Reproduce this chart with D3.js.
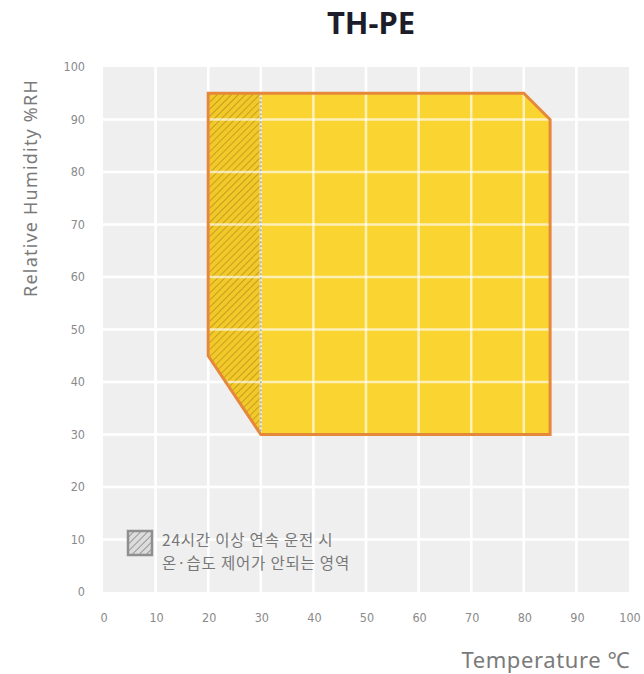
<!DOCTYPE html>
<html>
<head>
<meta charset="utf-8">
<script src="https://cdn.jsdelivr.net/npm/d3@7/dist/d3.min.js"></script>
<style>
  html, body { margin: 0; padding: 0; background: #ffffff; }
  svg { display: block; }
</style>
</head>
<body>
<svg id="chart" width="644" height="674"></svg>
<script>
// ---- data ----
const chartTitle = "TH-PE";
const xTicks = [0, 10, 20, 30, 40, 50, 60, 70, 80, 90, 100];
const yTicks = [0, 10, 20, 30, 40, 50, 60, 70, 80, 90, 100];
// operating envelope (temperature °C, humidity %RH)
const envelopeTemp = [20, 80, 85, 85, 30, 20];
const envelopeHum  = [95, 95, 90, 30, 30, 45];
// region not controllable on 24h+ continuous operation
const hatchTemp = [20, 30, 30, 20];
const hatchHum  = [95, 95, 30, 45];
const legendLines = ["24시간 이상 연속 운전 시", "온·습도 제어가 안되는 영역"];
const xLabel = "Temperature ℃";
const yLabel = "Relative Humidity %RH";

// ---- layout ----
const svg = d3.select("#chart");
const x = d3.scaleLinear().domain([0, 100]).range([103, 629]);
const y = d3.scaleLinear().domain([0, 100]).range([592, 67]);

const defs = svg.append("defs");
const pat = defs.append("pattern").attr("id", "hatch").attr("patternUnits", "userSpaceOnUse")
  .attr("width", 5).attr("height", 5).attr("patternTransform", "rotate(45)");
pat.append("rect").attr("width", 5).attr("height", 5).attr("fill", "#f2c928");
pat.append("line").attr("x1", 0).attr("y1", 0).attr("x2", 0).attr("y2", 5)
  .attr("stroke", "#bf9c20").attr("stroke-width", 1.8);
const pat2 = defs.append("pattern").attr("id", "hatchGrey").attr("patternUnits", "userSpaceOnUse")
  .attr("width", 5).attr("height", 5).attr("patternTransform", "rotate(45)");
pat2.append("rect").attr("width", 5).attr("height", 5).attr("fill", "#dcdcdc");
pat2.append("line").attr("x1", 0).attr("y1", 0).attr("x2", 0).attr("y2", 5)
  .attr("stroke", "#8c8c8c").attr("stroke-width", 1.8);

// background
svg.append("rect")
  .attr("x", x(0)).attr("y", y(100))
  .attr("width", x(100) - x(0)).attr("height", y(0) - y(100))
  .attr("fill", "#efefef");

const innerX = xTicks.filter(d => d > 0 && d < 100);
const innerY = yTicks.filter(d => d > 0 && d < 100);

function drawGrid(g, color, opacity) {
  g.selectAll("line.vx").data(innerX).enter().append("line")
    .attr("x1", d => x(d)).attr("x2", d => x(d))
    .attr("y1", y(100)).attr("y2", y(0))
    .attr("stroke", color).attr("stroke-width", 2.5).attr("opacity", opacity);
  g.selectAll("line.hy").data(innerY).enter().append("line")
    .attr("x1", x(0)).attr("x2", x(100))
    .attr("y1", d => y(d)).attr("y2", d => y(d))
    .attr("stroke", color).attr("stroke-width", 2.5).attr("opacity", opacity);
}
drawGrid(svg.append("g"), "#ffffff", 1);

const envPts = envelopeTemp.map((t, i) => [x(t), y(envelopeHum[i])]);
const hatchPts = hatchTemp.map((t, i) => [x(t), y(hatchHum[i])]);
const line = d3.line().curve(d3.curveLinearClosed);

// fill
svg.append("path").attr("d", line(envPts)).attr("fill", "#fad431");
svg.append("path").attr("d", line(hatchPts)).attr("fill", "url(#hatch)");
// grid over fill
drawGrid(svg.append("g"), "#ffffff", 0.65);
// dashed separator
svg.append("line")
  .attr("x1", x(hatchTemp[1])).attr("x2", x(hatchTemp[2]))
  .attr("y1", y(hatchHum[1])).attr("y2", y(hatchHum[2]))
  .attr("stroke", "#b5b5b5").attr("stroke-width", 2).attr("stroke-dasharray", "2,2");
// outline
svg.append("path").attr("d", line(envPts))
  .attr("fill", "none").attr("stroke", "#e5883a").attr("stroke-width", 3)
  .attr("stroke-linejoin", "miter");

// tick labels
const tickFont = "'DejaVu Sans Condensed', 'Noto Sans', sans-serif";
svg.append("g").selectAll("text").data(yTicks).enter().append("text")
  .attr("x", 85).attr("y", d => y(d)).attr("dy", "0.35em")
  .attr("text-anchor", "end").attr("font-family", tickFont)
  .attr("font-size", 12.5).attr("fill", "#8a8a8a").text(d => d);
svg.append("g").selectAll("text").data(xTicks).enter().append("text")
  .attr("x", d => x(d) + 1).attr("y", 618).attr("dy", "0.35em")
  .attr("text-anchor", "middle").attr("font-family", tickFont)
  .attr("font-size", 12.5).attr("fill", "#8a8a8a").text(d => d);

// axis titles
svg.append("text")
  .attr("x", 630).attr("y", 668)
  .attr("text-anchor", "end").attr("font-family", "'Noto Sans', sans-serif")
  .attr("font-size", 22).attr("letter-spacing", 0.6).attr("fill", "#7a7a7a").text(xLabel);
svg.append("text")
  .attr("transform", "translate(37,188) rotate(-90)")
  .attr("text-anchor", "middle").attr("font-family", "'Noto Sans', sans-serif")
  .attr("font-size", 18).attr("letter-spacing", 1.2).attr("fill", "#7a7a7a").text(yLabel);

// title
svg.append("text")
  .attr("x", 371).attr("y", 34)
  .attr("text-anchor", "middle").attr("font-family", "'Noto Sans', sans-serif")
  .attr("font-weight", "bold").attr("font-size", 31).attr("fill", "#1c1c2a").text(chartTitle);

// legend
const lg = svg.append("g");
lg.append("rect").attr("x", 128).attr("y", 531).attr("width", 24).attr("height", 24)
  .attr("fill", "url(#hatchGrey)").attr("stroke", "#8f8f8f").attr("stroke-width", 2.5);
lg.selectAll("text").data(legendLines).enter().append("text")
  .attr("x", 162).attr("y", (d, i) => 541 + i * 23).attr("dy", "0.35em")
  .attr("font-family", "'Noto Sans CJK KR', sans-serif")
  .attr("font-size", 15.5).attr("letter-spacing", 0.8).attr("fill", "#777777").text(d => d);
</script>
</body>
</html>
